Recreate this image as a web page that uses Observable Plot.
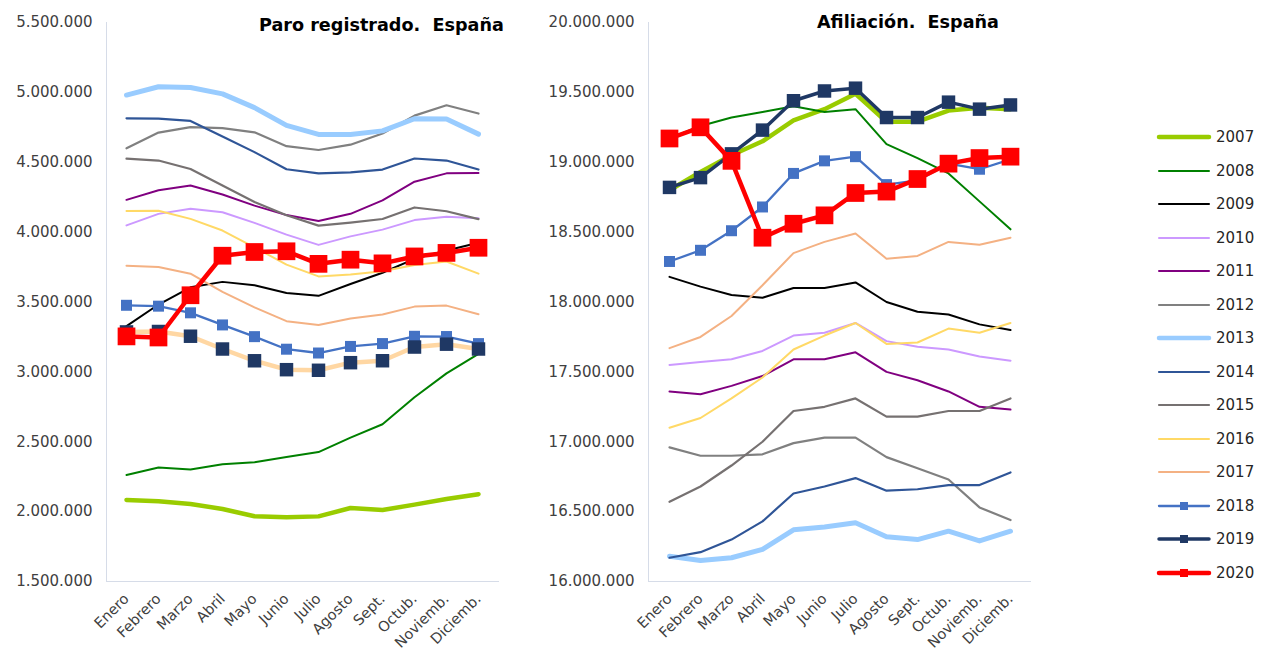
<!DOCTYPE html>
<html><head><meta charset="utf-8">
<script src="https://cdn.jsdelivr.net/npm/d3@7"></script>
<script src="https://cdn.jsdelivr.net/npm/@observablehq/plot@0.6"></script>
<style>
body{margin:0;background:#fff;font-family:"DejaVu Sans",Verdana,sans-serif;}
#wrap{position:relative;width:1262px;height:651px;overflow:hidden;background:#fff}
.panel{position:absolute;top:0}
.title{position:absolute;font-weight:bold;font-size:17.6px;line-height:18px;white-space:pre;color:#000}
.lg{position:absolute;left:1156px;height:20px;display:flex;align-items:center;font-size:15px;color:#262626}
.lg svg{margin-right:4px}
</style></head><body><div id="wrap"></div>
<script>
const months = ["Enero","Febrero","Marzo","Abril","Mayo","Junio","Julio","Agosto","Sept.","Octub.","Noviemb.","Diciemb."];
const years = [2007,2008,2009,2010,2011,2012,2013,2014,2015,2016,2017,2018,2019,2020];
const paroTicks = [1500000,2000000,2500000,3000000,3500000,4000000,4500000,5000000,5500000];
const afilTicks = [16000000,16500000,17000000,17500000,18000000,18500000,19000000,19500000,20000000];

// Paro registrado
const paro2007 = [2083500,2074400,2055000,2019100,1967400,1959000,1966000,2026000,2012000,2050000,2090000,2125000];
const paro2008 = [2261800,2315300,2301000,2338500,2352900,2390500,2426200,2530000,2625400,2818000,2989300,3129000];
const paro2009 = [3327800,3481900,3605400,3644000,3620100,3564900,3544100,3629100,3709400,3808400,3868900,3923600];
const paro2010 = [4048500,4130600,4166600,4142400,4066200,3982400,3908600,3969700,4017800,4086000,4110300,4100100];
const paro2011 = [4231000,4299300,4333700,4269400,4189700,4121800,4079700,4130900,4226700,4360900,4420500,4422400];
const paro2012 = [4599800,4712100,4750900,4744200,4714100,4615300,4587500,4625600,4705300,4833500,4907800,4848700];
const paro2013 = [4980800,5040200,5035200,4989200,4890900,4763700,4698800,4698800,4724400,4811400,4808900,4701300];
const paro2014 = [4814400,4812500,4795900,4684300,4572400,4449700,4419900,4427900,4447700,4526800,4512200,4447700];
const paro2015 = [4525700,4512100,4451900,4333000,4215000,4120300,4046300,4068000,4094000,4176400,4149300,4093500];
const paro2016 = [4150600,4153000,4094800,4011200,3891400,3767100,3683100,3697500,3720300,3765000,3789800,3703000];
const paro2017 = [3760200,3750900,3702300,3573000,3461100,3362800,3335900,3382300,3410200,3467000,3474300,3412800];
const paro2018 = [3476500,3470200,3422600,3335900,3252100,3162200,3135000,3182100,3202500,3254700,3252900,3202300];
const paro2019 = [3285800,3289000,3255100,3163600,3079500,3015700,3011400,3065800,3079700,3177700,3198200,3163600];
const paro2020 = [3253900,3246000,3548300,3831200,3857800,3862900,3773000,3802800,3776500,3826000,3851300,3888100];

// Afiliación
const afil2007 = [18800000,18930000,19050000,19150000,19300000,19380000,19490000,19290000,19290000,19370000,19390000,19380000];
const afil2008 = [19170000,19260000,19320000,19360000,19400000,19360000,19380000,19130000,19030000,18920000,18720000,18520000];
const afil2009 = [18180000,18110000,18050000,18030000,18100000,18100000,18140000,18000000,17930000,17910000,17840000,17800000];
const afil2010 = [17550000,17570000,17590000,17650000,17760000,17780000,17850000,17720000,17680000,17660000,17610000,17580000];
const afil2011 = [17360000,17340000,17400000,17470000,17590000,17590000,17640000,17500000,17440000,17360000,17250000,17230000];
const afil2012 = [16960000,16900000,16900000,16910000,16990000,17030000,17030000,16890000,16810000,16730000,16530000,16440000];
const afil2013 = [16180000,16150000,16170000,16230000,16370000,16390000,16420000,16320000,16300000,16360000,16290000,16360000];
const afil2014 = [16170000,16210000,16300000,16430000,16630000,16680000,16740000,16650000,16660000,16690000,16690000,16780000];
const afil2015 = [16570000,16680000,16830000,17000000,17220000,17250000,17310000,17180000,17180000,17220000,17220000,17310000];
const afil2016 = [17100000,17170000,17310000,17460000,17660000,17760000,17850000,17700000,17710000,17810000,17780000,17850000];
const afil2017 = [17670000,17750000,17900000,18120000,18350000,18430000,18490000,18310000,18330000,18430000,18410000,18460000];
const afil2018 = [18290000,18370000,18510000,18680000,18920000,19010000,19040000,18840000,18870000,18990000,18950000,19020000];
const afil2019 = [18820000,18890000,19060000,19230000,19440000,19510000,19530000,19320000,19320000,19430000,19380000,19410000];
const afil2020 = [19170000,19250000,19010000,18460000,18560000,18620000,18780000,18790000,18880000,18990000,19030000,19040000];

const paroSeries = [paro2007,paro2008,paro2009,paro2010,paro2011,paro2012,paro2013,paro2014,paro2015,paro2016,paro2017,paro2018,paro2019,paro2020];
const afilSeries = [afil2007,afil2008,afil2009,afil2010,afil2011,afil2012,afil2013,afil2014,afil2015,afil2016,afil2017,afil2018,afil2019,afil2020];

// styles
const colors = ["#99CC00","#008000","#000000","#CC99FF","#800080","#808080","#99CCFF","#2F5597","#767171","#FFD966","#F4B183","#4472C4","#1F3864","#FF0000"];
const widths = [4.5,2,2,2,2,2.2,5,2.2,2.2,2,2,2.3,3.5,4.5];
const markerR = [0,0,0,0,0,0,0,0,0,0,0,6.2,7.6,10];
const axisColor = "#D6DCE8";

const fmt = d3.formatLocale({decimal:",", thousands:".", grouping:[3], currency:["","€"]}).format(",d");

function makePanel(series, yDomain, yTicks, mLeft, mRight, line2019, w2019) {
  const rows = years.flatMap((yr,i)=> series[i].map((v,j)=>({year:yr, month:months[j], value:v})));
  const marks = [
    Plot.frame({anchor:"left", stroke:axisColor}),
    Plot.frame({anchor:"bottom", stroke:axisColor}),
    Plot.axisY({ticks:yTicks, tickFormat:fmt, tickSize:0, tickPadding:14, fontSize:15, label:null}),
    Plot.axisX({tickRotate:-45, tickSize:0, tickPadding:15, fontSize:14.5, label:null})
  ];
  years.forEach((yr,i)=>{
    const d = rows.filter(r=>r.year===yr);
    const stroke = (yr===2019 && line2019) ? line2019 : colors[i];
    const sw = (yr===2019 && w2019) ? w2019 : widths[i];
    marks.push(Plot.line(d,{x:"month",y:"value",stroke, strokeWidth:sw, strokeLinejoin:"round", strokeLinecap:"round"}));
    if (markerR[i]) marks.push(Plot.dot(d,{x:"month",y:"value",symbol:"square",r:markerR[i],fill:colors[i],stroke:"none"}));
  });
  return Plot.plot({
    width:520, height:651, marginLeft:mLeft, marginRight:mRight, marginTop:22, marginBottom:70,
    style:{fontFamily:"DejaVu Sans, Verdana, sans-serif", fontSize:"15px", color:"#404040", background:"transparent", overflow:"visible"},
    x:{type:"point", domain:months, padding:0.5},
    y:{domain:yDomain},
    marks
  });
}

const wrap = document.getElementById("wrap");
const p1 = makePanel(paroSeries,[1500000,5500000],paroTicks,106,22,"#FFD7A3",4.5);
p1.classList.add("panel"); p1.style.left="0px"; wrap.appendChild(p1);
const p2 = makePanel(afilSeries,[16000000,20000000],afilTicks,118,20,null,null);
p2.classList.add("panel"); p2.style.left="530px"; wrap.appendChild(p2);

function addTitle(txt,l,t){const d=document.createElement("div");d.className="title";d.textContent=txt;d.style.left=l+"px";d.style.top=t+"px";wrap.appendChild(d);}
addTitle("Paro registrado.  España",259,16);
addTitle("Afiliación.  España",817,13);

// legend
years.forEach((yr,i)=>{
  const row = document.createElement("div");
  row.className="lg";
  row.style.top = (127 + i*33.5) + "px";
  const svg = d3.create("svg").attr("width",56).attr("height",20);
  svg.append("line").attr("x1",3).attr("x2",53).attr("y1",10).attr("y2",10)
    .attr("stroke",colors[i]).attr("stroke-width",Math.min(widths[i],4.5)).attr("stroke-linecap","round");
  if (markerR[i]) svg.append("rect").attr("x",24).attr("y",6).attr("width",8).attr("height",8).attr("fill",colors[i]);
  row.appendChild(svg.node());
  const s=document.createElement("span"); s.textContent=String(yr); row.appendChild(s);
  wrap.appendChild(row);
});
</script></body></html>
